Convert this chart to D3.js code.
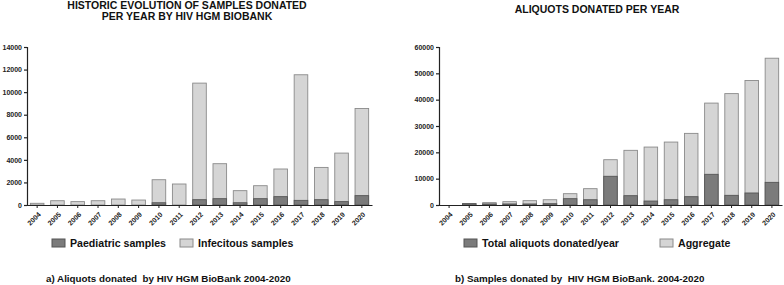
<!DOCTYPE html>
<html>
<head>
<meta charset="utf-8">
<script src="https://cdn.jsdelivr.net/npm/d3@7"></script>
<style>
  body { margin: 0; background: #fff; }
  text { font-family: Arial, "Liberation Sans", sans-serif; font-weight: bold; }
</style>
</head>
<body>
<div id="chart"></div>
<script>
// data
const years = ["2004", "2005", "2006", "2007", "2008", "2009", "2010", "2011", "2012",
  "2013", "2014", "2015", "2016", "2017", "2018", "2019", "2020"];
const paediatric = [0, 0, 0, 0, 0, 0, 200, 0, 470, 560, 200, 560, 740, 410, 470, 300, 830];
const infectious = [150, 380, 300, 380, 530, 440, 2040, 1860, 10330, 3100, 1070, 1150, 2450, 11130, 2860, 4300, 7720];
const totalAliquots = [0, 500, 400, 400, 400, 500, 2400, 2000, 10900, 3540, 1500, 2000, 3160, 11650, 3670, 4560, 8600];
const aggregate = [0, 500, 900, 1270, 1650, 2000, 4300, 6200, 17200, 20760, 22000, 23900, 27200, 38700, 42300, 47260, 55740];
const ticksA = [0, 2000, 4000, 6000, 8000, 10000, 12000, 14000];
const ticksB = [0, 10000, 20000, 30000, 40000, 50000, 60000];

const W = 784, H = 285;
const dark = "#7b7b7b", light = "#d5d5d5";

const svg = d3.select("#chart").append("svg")
  .attr("width", W)
  .attr("height", H);

function panel(opts) {
  const x = d3.scaleBand()
    .domain(years)
    .range([opts.x0, opts.x1])
    .paddingInner(0.33)
    .paddingOuter(0.165);
  const y = d3.scaleLinear()
    .domain([0, opts.max])
    .range([205, 47]);

  const g = svg.append("g");

  // bars: back series
  g.selectAll(".back")
    .data(years)
    .enter()
    .append("rect")
    .attr("x", d => x(d))
    .attr("width", x.bandwidth())
    .attr("y", (d, i) => y(opts.back(i)))
    .attr("height", (d, i) => y(0) - y(opts.back(i)))
    .attr("fill", light)
    .attr("stroke", "#8a8a8a")
    .attr("stroke-width", 0.9);

  // bars: front series
  g.selectAll(".front")
    .data(years)
    .enter()
    .append("rect")
    .attr("x", d => x(d))
    .attr("width", x.bandwidth())
    .attr("y", (d, i) => y(opts.front[i]))
    .attr("height", (d, i) => y(0) - y(opts.front[i]))
    .attr("fill", dark)
    .attr("stroke", "#555")
    .attr("stroke-width", 0.9)
    .attr("opacity", (d, i) => opts.front[i] > 0 ? 1 : 0);

  // Y axis
  const ya = g.append("g")
    .attr("transform", `translate(${opts.x0},0)`)
    .call(d3.axisLeft(y).tickValues(opts.ticks).tickSize(3).tickSizeOuter(3).tickFormat(d3.format("d")));
  ya.select(".domain").attr("stroke", "#222").attr("stroke-width", 1.2);
  ya.selectAll(".tick line").attr("stroke", "#222").attr("stroke-width", 1.2);
  ya.selectAll("text").attr("font-size", 7).attr("dx", 1).attr("fill", "#222");

  // X axis
  const xa = g.append("g")
    .attr("transform", "translate(0,205)")
    .call(d3.axisBottom(x).tickSize(3).tickSizeOuter(0));
  xa.select(".domain").attr("stroke", "#222").attr("stroke-width", 1.2);
  xa.selectAll(".tick line").attr("stroke", "#222").attr("stroke-width", 1);
  xa.selectAll("text")
    .attr("font-size", 7)
    .attr("fill", "#222")
    .attr("x", 0)
    .attr("y", 0)
    .attr("dy", 0)
    .attr("transform", "translate(4,10)rotate(-45)")
    .style("text-anchor", "end");

  // titles
  opts.title.forEach((t, k) => {
    g.append("text")
      .attr("x", opts.titleX)
      .attr("y", opts.titleY + k * 11)
      .attr("text-anchor", "middle")
      .attr("font-size", 10.5)
      .attr("fill", "#111")
      .text(t);
  });

  // legend
  opts.legend.forEach(l => {
    g.append("rect")
      .attr("x", l.x).attr("y", 239)
      .attr("width", 13).attr("height", 8)
      .attr("fill", l.fill)
      .attr("stroke", l.fill === dark ? "#555" : "#8a8a8a");
    g.append("text")
      .attr("x", l.x + 18).attr("y", 246.5)
      .attr("font-size", 10.6)
      .attr("fill", "#111")
      .text(l.label);
  });

  // caption
  g.append("text")
    .attr("x", opts.capX)
    .attr("y", 282)
    .attr("font-size", 9.8)
    .attr("fill", "#111")
    .style("white-space", "pre")
    .text(opts.caption);
}

panel({
  x0: 27, x1: 372, max: 14000, ticks: ticksA,
  back: i => paediatric[i] + infectious[i],
  front: paediatric,
  title: ["HISTORIC EVOLUTION OF SAMPLES DONATED", "PER YEAR BY HIV HGM BIOBANK"],
  titleX: 187, titleY: 9,
  legend: [
    { x: 52, fill: dark, label: "Paediatric samples" },
    { x: 180, fill: light, label: "Infecitous samples" }
  ],
  capX: 46,
  caption: "a) Aliquots donated  by HIV HGM BioBank 2004-2020"
});

panel({
  x0: 439, x1: 782, max: 60000, ticks: ticksB,
  back: i => aggregate[i],
  front: totalAliquots,
  title: ["ALIQUOTS DONATED PER YEAR"],
  titleX: 597, titleY: 13,
  legend: [
    { x: 464, fill: dark, label: "Total aliquots donated/year" },
    { x: 660, fill: light, label: "Aggregate" }
  ],
  capX: 455,
  caption: "b) Samples donated by  HIV HGM BioBank. 2004-2020"
});
</script>
</body>
</html>
